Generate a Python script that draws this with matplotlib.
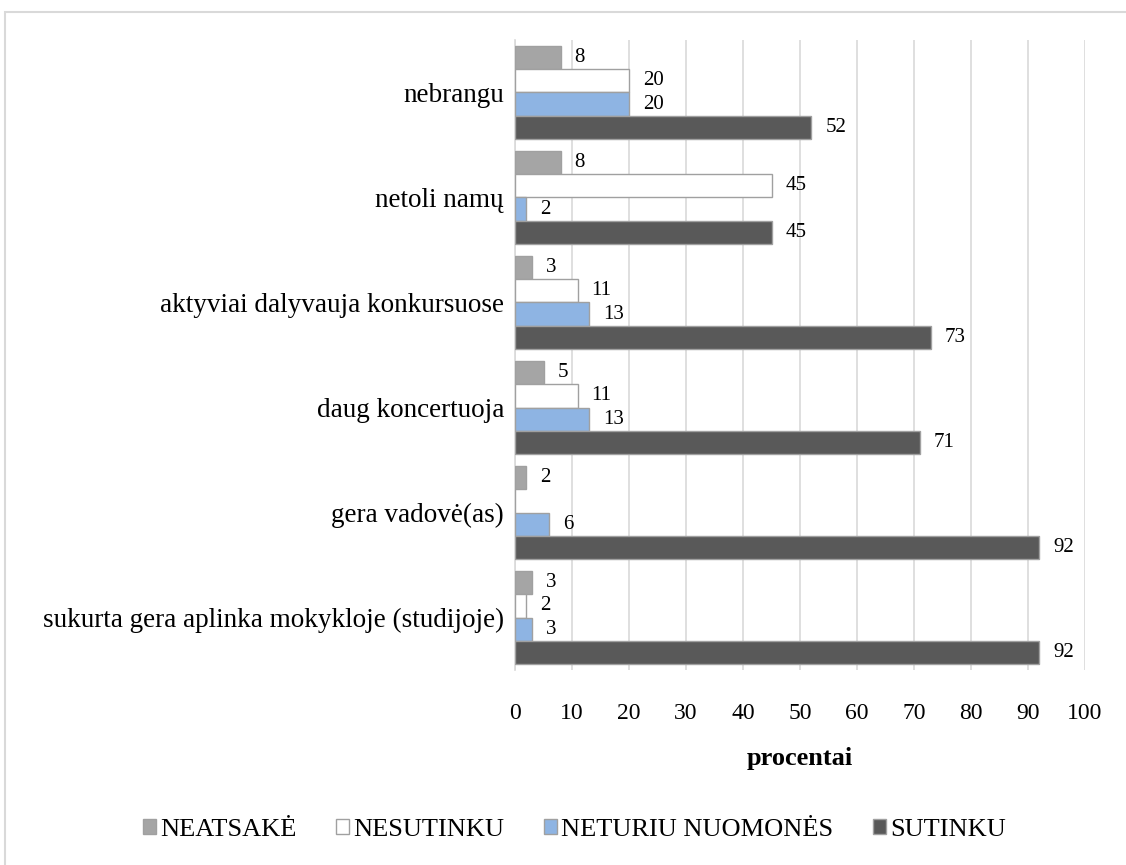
import numpy as np
import matplotlib.pyplot as plt
from matplotlib.patches import Rectangle

plt.rcParams['font.family'] = ['Liberation Serif', 'DejaVu Serif']

categories = ['nebrangu', 'netoli namų', 'aktyviai dalyvauja konkursuose',
              'daug koncertuoja', 'gera vadovė(as)',
              'sukurta gera aplinka mokykloje (studijoje)']
series = ['NEATSAKĖ', 'NESUTINKU', 'NETURIU NUOMONĖS', 'SUTINKU']
neatsake = [8, 8, 3, 5, 2, 3]
nesutinku = [20, 45, 11, 11, 0, 2]
neturiu = [20, 2, 13, 13, 6, 3]
sutinku = [52, 45, 73, 71, 92, 92]
values = [neatsake, nesutinku, neturiu, sutinku]
colors = ['#A5A5A5', '#FFFFFF', '#8EB4E3', '#595959']

fig = plt.figure(figsize=(11.26, 8.65), dpi=100)
ax = fig.add_axes([0.4574, 0.2254, 0.5062, 0.7284])

# outer chart frame
fig.patches.append(Rectangle((5/1126, -0.1), 1.2, 1.1 - 12/865, transform=fig.transFigure,
                             fill=False, edgecolor='#D9D9D9', linewidth=1.5))

h = 0.22
y = np.arange(len(categories))
for k, (name, vals, col) in enumerate(zip(series, values, colors)):
    pos = y + (k - 1.5) * h
    ax.barh(pos, vals, height=h, color=col, edgecolor='#A0A0A0', linewidth=1, label=name, zorder=3)
    for p, v in zip(pos, vals):
        if v == 0:
            continue
        ax.annotate(str(v), (v, p), xytext=(10, 0), textcoords='offset points',
                    va='center', ha='left', fontsize=15)

ax.set_xlim(0, 100)
ax.set_ylim(len(categories) - 0.5, -0.5)
ax.set_xticks(range(0, 101, 10))
ax.set_yticks(y)
ax.set_yticklabels(categories, fontsize=19.5)
ax.tick_params(axis='x', labelsize=17, length=0, pad=24)
ax.tick_params(axis='y', length=0, pad=8)
ax.grid(axis='x', color='#D9D9D9', linewidth=1.2, zorder=0)
for s in ['top', 'right', 'bottom']:
    ax.spines[s].set_visible(False)
ax.spines['left'].set_color('#D9D9D9')
ax.spines['left'].set_linewidth(1.2)
ax.set_xlabel('procentai', fontsize=19, fontweight='bold', labelpad=16)

fig.legend(loc='center', bbox_to_anchor=(0.51, 1 - 830/865), ncol=4, frameon=False,
           prop={'family': ['Liberation Serif', 'DejaVu Serif'], 'size': 19},
           handlelength=0.5, handleheight=0.5, handletextpad=0.15, columnspacing=1.5)

plt.savefig('out.png', dpi=100)
